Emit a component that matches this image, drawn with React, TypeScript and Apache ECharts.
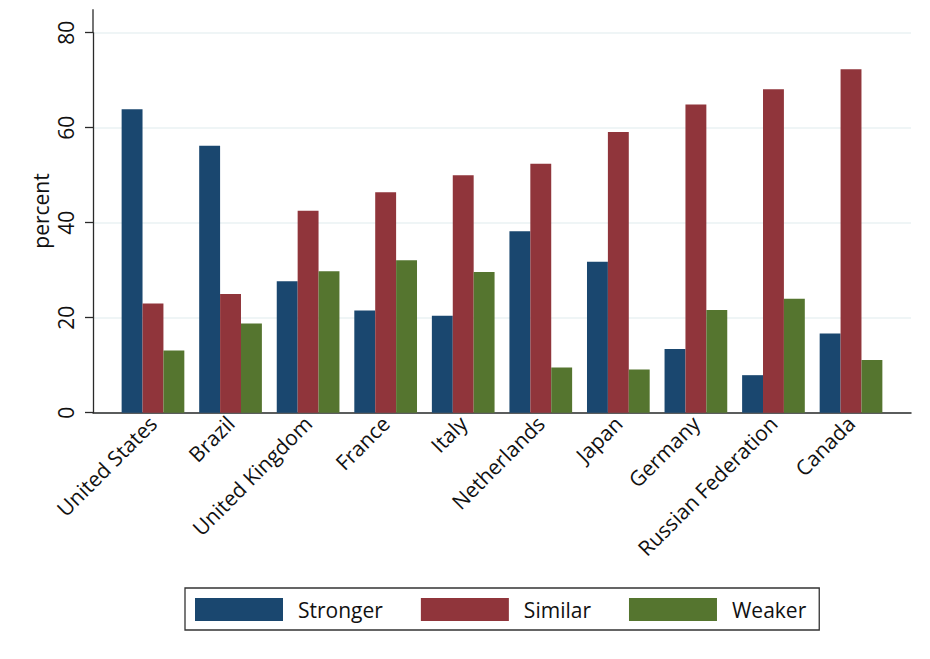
import React, { useEffect, useRef } from "react";
import * as echarts from "echarts";

const categories = [
  "United States",
  "Brazil",
  "United Kingdom",
  "France",
  "Italy",
  "Netherlands",
  "Japan",
  "Germany",
  "Russian Federation",
  "Canada",
];
const stronger = [63.9, 56.2, 27.7, 21.5, 20.4, 38.2, 31.8, 13.4, 7.9, 16.7];
const similar = [23.0, 25.0, 42.5, 46.4, 50.0, 52.4, 59.1, 64.9, 68.1, 72.3];
const weaker = [13.1, 18.8, 29.8, 32.1, 29.6, 9.5, 9.1, 21.6, 24.0, 11.1];
const seriesNames = ["Stronger", "Similar", "Weaker"];
const yTicks = [0, 20, 40, 60, 80];

const COLORS = ["#1a476f", "#90353b", "#55752f"];
const FONT = "Open Sans";
const AXIS_COLOR = "#2a2a2a";

export default function App() {
  const ref = useRef<HTMLDivElement>(null);
  useEffect(() => {
    document.body.style.margin = "0";
    if (!ref.current) return;
    const chart = echarts.init(ref.current, undefined, { renderer: "svg" });
    const plotLeft = 93;
    const plotRight = 911;
    const plotTop = 32.7;
    const plotBottom = 412.7;
    const barLeft = 114.2;
    const barRight = 889.8;
    const yMin = yTicks[0];
    const yMax = yTicks[yTicks.length - 1];
    const yInterval = yTicks[1] - yTicks[0];
    const dataSets = [stronger, similar, weaker];

    chart.setOption({
      animation: false,
      backgroundColor: "#ffffff",
      textStyle: { fontFamily: FONT },
      grid: [
        {
          left: plotLeft,
          top: plotTop,
          width: plotRight - plotLeft,
          height: plotBottom - plotTop,
        },
        {
          left: barLeft,
          top: plotTop,
          width: barRight - barLeft,
          height: plotBottom - plotTop,
        },
      ],
      xAxis: [
        {
          gridIndex: 0,
          type: "value",
          min: 0,
          max: 1,
          axisLine: { show: true, lineStyle: { color: AXIS_COLOR, width: 1.5 } },
          axisTick: { show: false },
          axisLabel: { show: false },
          splitLine: { show: false },
        },
        {
          gridIndex: 1,
          type: "category",
          data: categories,
          axisLine: { show: false },
          axisTick: { show: false },
          axisLabel: {
            rotate: 45,
            margin: 7,
            fontSize: 21,
            color: "#111",
            fontFamily: FONT,
            interval: 0,
          },
        },
      ],
      yAxis: [
        {
          gridIndex: 0,
          type: "value",
          min: yMin,
          max: yMax,
          interval: yInterval,
          axisLine: { show: true, lineStyle: { color: AXIS_COLOR, width: 1.3 } },
          axisTick: { show: true, length: 8, lineStyle: { color: AXIS_COLOR, width: 1.3 } },
          axisLabel: {
            rotate: 90,
            margin: 17,
            fontSize: 21,
            color: "#111",
            fontFamily: FONT,
          },
          splitLine: { show: true, lineStyle: { color: "#eaf2f3", width: 1.5 } },
        },
        {
          gridIndex: 1,
          type: "value",
          min: yMin,
          max: yMax,
          interval: yInterval,
          show: false,
          splitLine: { show: false },
        },
      ],
      legend: {
        data: seriesNames,
        left: 185,
        top: 588,
        orient: "horizontal",
        icon: "rect",
        itemWidth: 88,
        itemHeight: 23,
        itemGap: 38,
        padding: [10, 13, 9, 10],
        borderColor: "#333",
        borderWidth: 1.3,
        selectedMode: false,
        textStyle: {
          fontSize: 21,
          color: "#111",
          fontFamily: FONT,
          padding: [0, 0, 0, 10],
        },
      },
      series: seriesNames.map((name, i) => ({
        name,
        type: "bar",
        xAxisIndex: 1,
        yAxisIndex: 1,
        data: dataSets[i],
        barWidth: 20.9,
        barGap: "0%",
        itemStyle: { color: COLORS[i] },
      })),
      graphic: [
        {
          type: "line",
          shape: { x1: plotLeft, y1: 9.3, x2: plotLeft, y2: plotTop },
          style: { stroke: AXIS_COLOR, lineWidth: 1.3 },
        },
        {
          type: "text",
          x: 41,
          y: 211,
          rotation: Math.PI / 2,
          style: {
            text: "percent",
            fontSize: 21,
            fontFamily: FONT,
            fill: "#111",
            align: "center",
            verticalAlign: "middle",
          },
        },
      ],
    });
    return () => chart.dispose();
  }, []);
  return <div ref={ref} style={{ width: 930, height: 659 }} />;
}
